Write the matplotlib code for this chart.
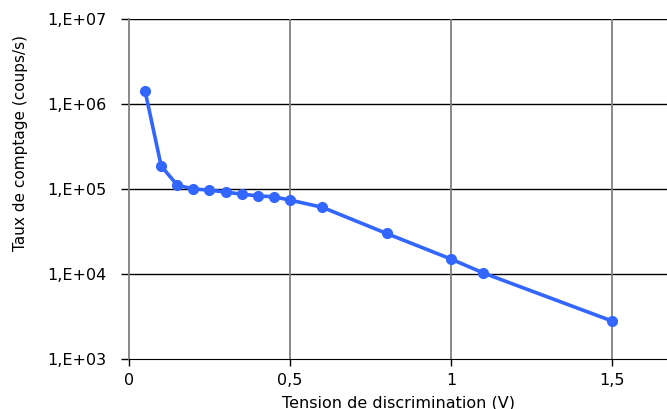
import numpy as np
import matplotlib.pyplot as plt
from matplotlib.ticker import FuncFormatter, FixedLocator, NullLocator

plt.rcParams['font.family'] = ['DejaVu Sans']

# Données
tension = [0.05, 0.1, 0.15, 0.2, 0.25, 0.3, 0.35, 0.4, 0.45, 0.5, 0.6, 0.8, 1.0, 1.1, 1.5]
taux = [1.42e6, 1.86e5, 1.11e5, 1.0e5, 9.7e4, 9.2e4, 8.7e4, 8.3e4, 8.1e4, 7.4e4,
        6.1e4, 3.0e4, 1.5e4, 1.03e4, 2.8e3]
x_ticks = [0, 0.5, 1, 1.5]
y_ticks = [1e3, 1e4, 1e5, 1e6, 1e7]

fig = plt.figure(figsize=(6.67, 4.09), dpi=100)
ax = fig.add_axes([129 / 667, 1 - 359 / 409, 1 - 129 / 667, (359 - 19) / 409])

ax.plot(tension, taux, color='#3366ff', lw=2.6, marker='o', ms=7, zorder=3)

ax.set_yscale('log')
ax.set_ylim(1e3, 1e7)
ax.set_xlim(0, 1.671)

ax.yaxis.set_major_locator(FixedLocator(y_ticks))
ax.yaxis.set_minor_locator(NullLocator())
ax.yaxis.set_major_formatter(FuncFormatter(lambda v, p: '1,E+%02d' % round(np.log10(v))))
ax.xaxis.set_major_locator(FixedLocator(x_ticks))
ax.xaxis.set_major_formatter(FuncFormatter(lambda v, p: ('%g' % v).replace('.', ',')))

# Quadrillage : horizontal noir, vertical gris
for y in y_ticks[1:]:
    ax.axhline(y, color='black', lw=1, zorder=1)
for x in x_ticks[1:]:
    ax.axvline(x, color='#808080', lw=1.3, zorder=1)

for s in ['top', 'right']:
    ax.spines[s].set_visible(False)
ax.spines['left'].set_color('#808080')
ax.spines['left'].set_linewidth(1.3)
ax.spines['bottom'].set_color('black')

ax.tick_params(axis='y', direction='out', length=6, width=1, labelsize=11.5, pad=10)
ax.tick_params(axis='x', direction='out', length=5, width=1, labelsize=11.5, pad=5)

ax.set_xlabel('Tension de discrimination (V)', fontsize=11.5)
ax.xaxis.set_label_coords(0.5, -0.107)
ax.set_ylabel('Taux de comptage (coups/s)', fontsize=11)
ax.yaxis.set_label_coords(-0.188, 0.634)

fig.savefig('out.png', dpi=100)
